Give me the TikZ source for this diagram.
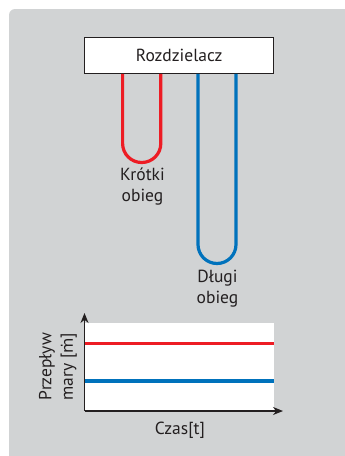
\documentclass[tikz,border=0pt]{standalone}
\usepackage{fontspec}
\setmainfont{PT Sans}
\newfontfamily\dotfont[Scale=0.9]{DejaVu Sans}
\usetikzlibrary{arrows.meta}
\definecolor{bggray}{HTML}{D1D3D4}
\definecolor{hotred}{HTML}{ED1C24}
\definecolor{coolblue}{HTML}{0072BC}
\definecolor{ink}{HTML}{231F20}
\begin{document}
\begin{tikzpicture}[x=1pt,y=-1pt,
  lbl/.style={font=\fontsize{17.5}{21.5}\selectfont, text=ink, inner sep=0pt, align=center},
  pipe/.style={line width=3.2pt, rounded corners=19pt},
  flow/.style={line width=3.3pt},
  axis/.style={line width=1.3pt, draw=ink, -{Stealth[length=10pt,width=8pt]}}]
\useasboundingbox (0,0) rectangle (345,456);
\clip (0,0) rectangle (345,456);
\fill[bggray, rounded corners=6pt] (9,9) rectangle (370,480);
% distributor
\node[draw=ink, line width=1pt, fill=white, minimum width=189pt, minimum height=36pt, inner sep=0pt, lbl] (roz) at (179.2,55.3) {Rozdzielacz};
% short loop
\coordinate (rs1) at (122.6,73.8);
\coordinate (rs2) at (160.8,73.8);
\draw[pipe, hotred] (rs1) -- (122.6,162.5) -- (160.8,162.5) -- (rs2);
% long loop
\coordinate (bl1) at (198,73.8);
\coordinate (bl2) at (236,73.8);
\draw[pipe, coolblue] (bl1) -- (198,263.5) -- (236,263.5) -- (bl2);
% labels
\node[lbl] (krotki) at (142.5,186.5) {Krótki\\obieg};
\node[lbl] (dlugi) at (217.5,288.5) {Długi\\obieg};
% chart
\fill[white] (84.5,323.3) rectangle (273.7,411);
\draw[flow, hotred] (84.5,343.3) -- (273.7,343.3);
\draw[flow, coolblue] (84.5,381) -- (273.7,381);
\coordinate (o) at (84.5,411);
\coordinate (ytip) at (84.5,313);
\coordinate (xtip) at (283,411);
\draw[axis] (o) -- (ytip);
\draw[axis] (o) -- (xtip);
\node[lbl, rotate=90] (ylab) at (58,366.5) {Przepływ\\mary [{\dotfont ṁ}]};
\node[lbl, anchor=base] (xlab) at (179.8,434) {Czas[t]};
\end{tikzpicture}
\end{document}
